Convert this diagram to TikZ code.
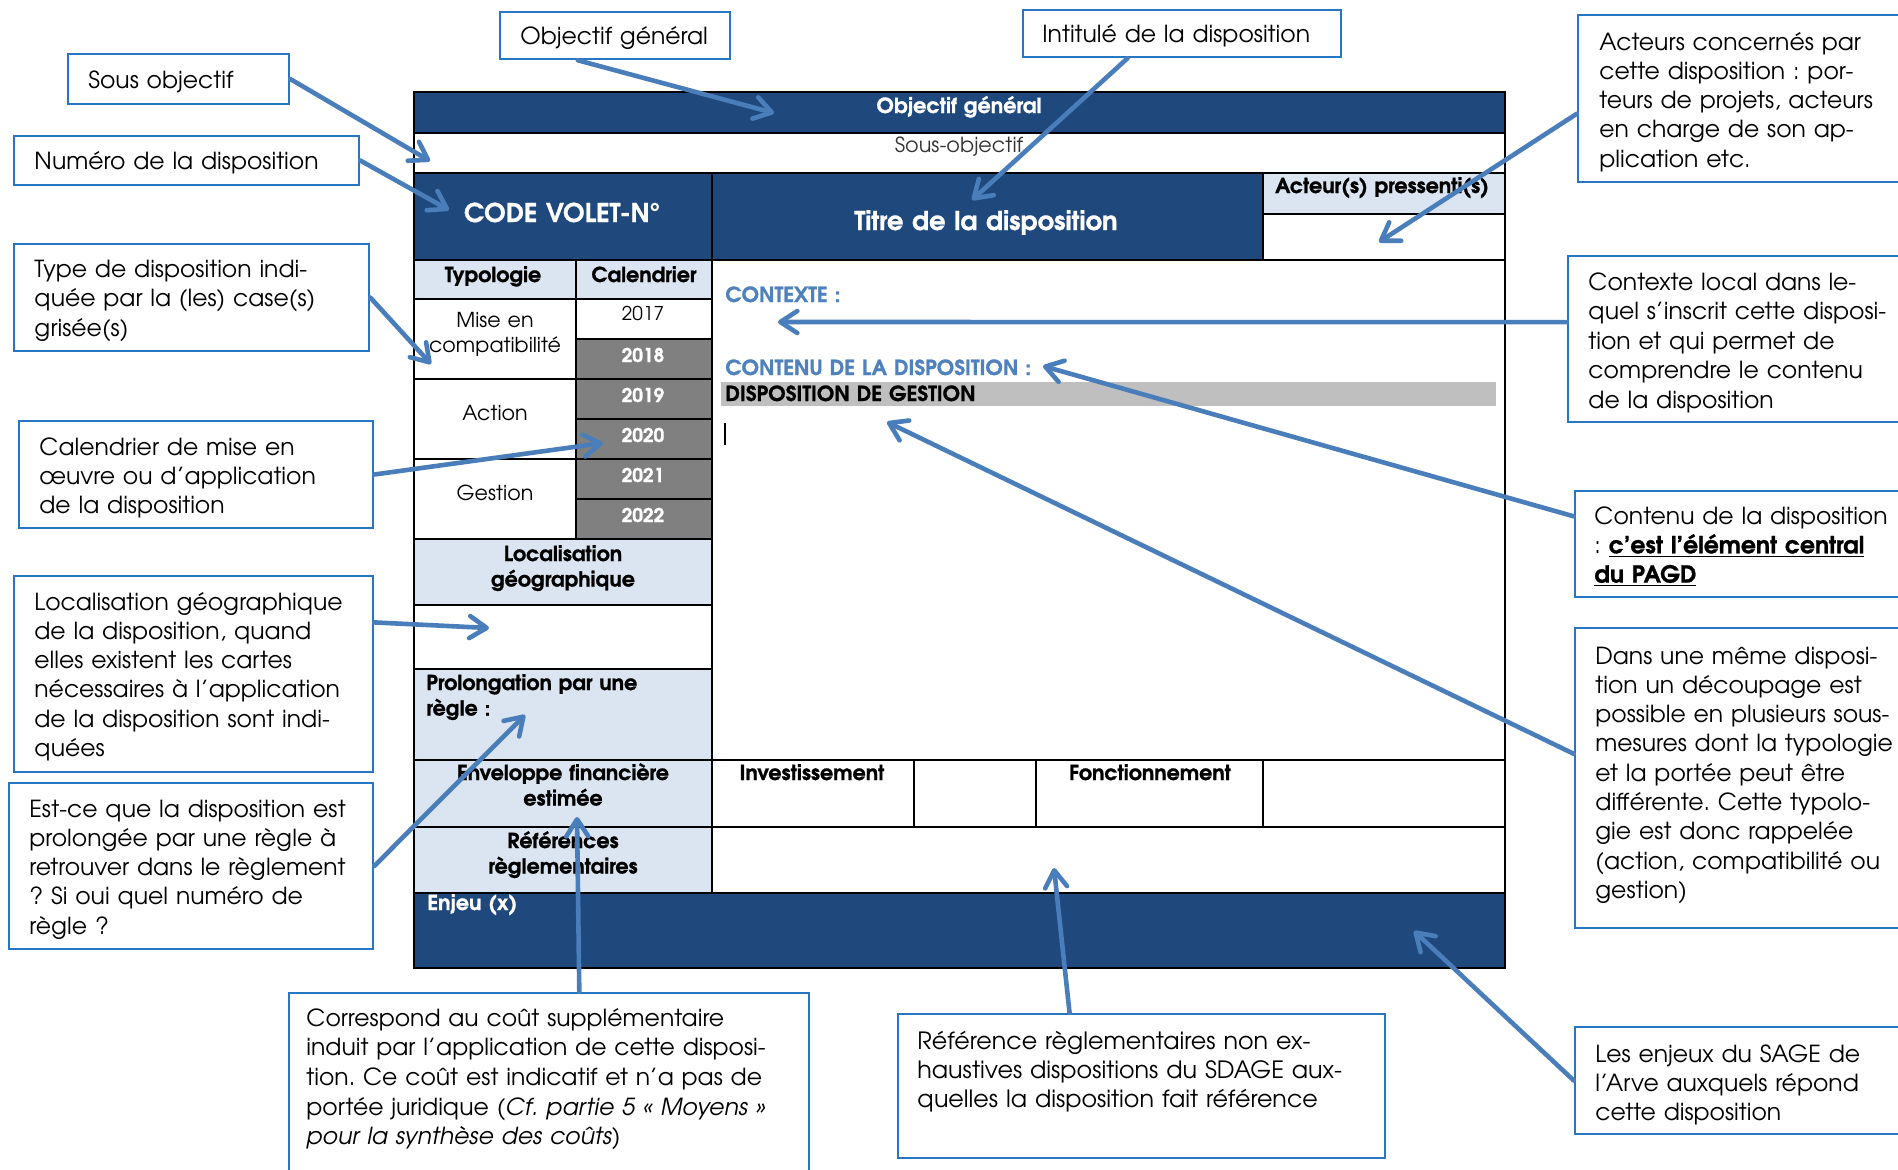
\documentclass[tikz,border=0pt]{standalone}
\usepackage{fontspec}
\IfFontExistsTF{TeX Gyre Adventor}{\setmainfont{TeX Gyre Adventor}[BoldFeatures={FakeBold=1}]}{\setmainfont{Poppins}}
\usetikzlibrary{arrows.meta,fit,calc}
\definecolor{dkblue}{RGB}{31,72,124}
\definecolor{ltblue}{RGB}{219,229,241}
\definecolor{yrgray}{RGB}{128,128,128}
\definecolor{barg}{RGB}{191,191,191}
\definecolor{arrblue}{RGB}{74,126,187}
\definecolor{boxblue}{RGB}{38,118,196}
\definecolor{ctxblue}{RGB}{79,129,189}
\frenchspacing
\newcommand\cfont{\fontsize{11.75}{14.65}\selectfont}
\newcommand\tfont{\fontsize{10.3}{12.75}\selectfont}
\tikzset{
  cell/.style={draw=black, line width=0.9pt, inner sep=0pt},
  dk/.style={cell, fill=dkblue},
  lt/.style={cell, fill=ltblue},
  wh/.style={cell, fill=white},
  gy/.style={cell, fill=yrgray},
  callbox/.style={draw=boxblue, line width=1.25pt, fill=white, inner sep=0pt},
  ctext/.style={anchor=base west, inner sep=0pt, text width=330pt, align=left, font=\cfont},
  tb/.style={anchor=base, inner sep=0pt, text width=150pt, align=center, font=\tfont\bfseries},
  tr/.style={anchor=base, inner sep=0pt, text width=150pt, align=center, font=\tfont},
  yr/.style={tb, font=\fontsize{9.5}{11}\selectfont\bfseries},
  arr/.style={draw=arrblue, line width=2.3pt, line cap=round, line join=round,
    -{Straight Barb[length=8.5pt,width=11pt,round]}},
}
\begin{document}
\begin{tikzpicture}[x=0.5pt,y=-0.5pt]
\fill[white] (0,0) rectangle (1898,1169);
\useasboundingbox (0,0) rectangle (1898,1169);

% ---------------- table cells
\node[dk, fit={(414,92) (1505,133)}] (objbar) {};
\node[wh, fit={(414,133) (1505,173)}] (sousobj) {};
\node[dk, fit={(414,173) (712,260)}] (code) {};
\node[dk, fit={(712,173) (1263,260)}] (titre) {};
\node[lt, fit={(1263,173) (1505,214)}] (acthead) {};
\node[wh, fit={(1263,214) (1505,260)}] (actbody) {};
\node[lt, fit={(414,260) (576,299)}] (typohead) {};
\node[lt, fit={(576,260) (712,299)}] (calhead) {};
\node[wh, fit={(414,299) (576,379)}] (mise) {};
\node[wh, fit={(414,379) (576,459)}] (action) {};
\node[wh, fit={(414,459) (576,539)}] (gestion) {};
\node[wh, fit={(576,299) (712,339)}] (y2017) {};
\node[gy, fit={(576,339) (712,379)}] (y2018) {};
\node[gy, fit={(576,379) (712,419)}] (y2019) {};
\node[gy, fit={(576,419) (712,459)}] (y2020) {};
\node[gy, fit={(576,459) (712,499)}] (y2021) {};
\node[gy, fit={(576,499) (712,539)}] (y2022) {};
\node[lt, fit={(414,539) (712,605)}] (lochead) {};
\node[wh, fit={(414,605) (712,669)}] (locbody) {};
\node[lt, fit={(414,669) (712,760)}] (prolong) {};
\node[wh, fit={(712,260) (1505,760)}] (content) {};
\node[lt, fit={(414,760) (712,827)}] (envhead) {};
\node[wh, fit={(712,760) (914,827)}] (inv) {};
\node[wh, fit={(914,760) (1036,827)}] (invval) {};
\node[wh, fit={(1036,760) (1263,827)}] (fonc) {};
\node[wh, fit={(1263,760) (1505,827)}] (foncval) {};
\node[lt, fit={(414,827) (712,893)}] (refhead) {};
\node[wh, fit={(712,827) (1505,893)}] (refbody) {};
\node[dk, fit={(414,893) (1505,968)}] (enjeu) {};

% ---------------- table texts
\node[tb, text=white, font=\fontsize{10.4}{12}\selectfont\bfseries] (tObj) at (959,113) {Objectif général};
\node[tr, text=black!80, font=\fontsize{10.4}{12}\selectfont] (tSousobj) at (959,152) {Sous-objectif};
\node[tb, text=white, font=\fontsize{12.9}{14}\selectfont\bfseries] (tCode) at (562,222) {CODE VOLET-N°};
\node[tb, text=white, font=\fontsize{12.9}{14}\selectfont\bfseries, text width=260pt] (tTitre) at (986,230) {Titre de la disposition};
\node[tb] (tAct) at (1382,193) {Acteur(s) pressenti(s)};
\node[tb] (tTypo) at (493,282) {Typologie};
\node[tb] (tCal) at (644,282) {Calendrier};
\node[tr] (tMise) at (495,327) {Mise en\\compatibilité};
\node[tr, font=\fontsize{9.5}{11}\selectfont] (t2017) at (643,320) {2017};
\node[yr, text=white] (t2018) at (643,362) {2018};
\node[yr, text=white] (t2019) at (643,402) {2019};
\node[yr, text=white] (t2020) at (643,442) {2020};
\node[yr, text=white] (t2021) at (643,482) {2021};
\node[yr, text=white] (t2022) at (643,522) {2022};
\node[tr] (tAction) at (495,420) {Action};
\node[tr] (tGestion) at (495,500) {Gestion};
\node[tb] (tLoc) at (563,561) {Localisation\\géographique};
\node[tb, anchor=base west, align=left] (tProl) at (426,690) {Prolongation par une\\règle :};
\node[tb] (tEnv) at (563,780) {Enveloppe financière\\estimée};
\node[tb] (tInv) at (812,780) {Investissement};
\node[tb] (tFonc) at (1150,780) {Fonctionnement};
\node[tb] (tRef) at (563,848) {Références\\règlementaires};
\node[tb, text=white, anchor=base west, align=left] (tEnjeu) at (427,910) {Enjeu (x)};

% content area
\fill[barg] (721,382) rectangle (1496,406);
\node[tb, anchor=base west, align=left, text=ctxblue, font=\fontsize{10.4}{12}\selectfont\bfseries] (tCtx) at (725,302) {CONTEXTE :};
\node[tb, anchor=base west, align=left, text=ctxblue, font=\fontsize{10.4}{12}\selectfont\bfseries, text width=300pt] (tContenu) at (725,375) {CONTENU DE LA DISPOSITION :};
\node[tb, anchor=base west, align=left, font=\fontsize{10.4}{12}\selectfont\bfseries, text width=300pt] (tDisp) at (725,401) {DISPOSITION DE GESTION};
\draw[line width=1.1pt] (725,423) -- (725,445);

% ---------------- callout boxes
\node[callbox, fit={(500,12) (730,59)}] (bObj) {};
\node[ctext] (cObj) at (520,44) {Objectif général};
\node[callbox, fit={(1023,10) (1341,57)}] (bInt) {};
\node[ctext] (cInt) at (1042,42) {Intitulé de la disposition};
\node[callbox, fit={(68,54) (289,104)}] (bSous) {};
\node[ctext] (cSous) at (88,88) {Sous objectif};
\node[callbox, fit={(14,136) (359,185)}] (bNum) {};
\node[ctext] (cNum) at (34,169) {Numéro de la disposition};
\node[callbox, fit={(14,244) (369,351)}] (bType) {};
\node[ctext] (cType) at (34,277.5) {Type de disposition indi-\\quée par la (les) case(s)\\grisée(s)};
\node[callbox, fit={(19,421) (373,528)}] (bCal) {};
\node[ctext] (cCal) at (39,455) {Calendrier de mise en\\œuvre ou d’application\\de la disposition};
\node[callbox, fit={(14,576) (373,772)}] (bLoc) {};
\node[ctext] (cLoc) at (34,610) {Localisation géographique\\de la disposition, quand\\elles existent les cartes\\nécessaires à l’application\\de la disposition sont indi-\\quées};
\node[callbox, fit={(9,783) (373,949)}] (bEst) {};
\node[ctext] (cEst) at (29,817) {Est-ce que la disposition est\\prolongée par une règle à\\retrouver dans le règlement\\? Si oui quel numéro de\\règle ?};
\node[callbox, fit={(289,993) (809,1185)}] (bCorr) {};
\node[ctext, font=\fontsize{11.75}{14.85}\selectfont] (cCorr) at (306,1026) {Correspond au coût supplémentaire\\induit par l’application de cette disposi-\\tion. Ce coût est indicatif et n’a pas de\\portée juridique (\textit{Cf. partie 5 « Moyens »}\\\textit{pour la synthèse des coûts})};
\node[callbox, fit={(898,1014) (1385,1158)}] (bRef) {};
\node[ctext, font=\fontsize{11.9}{14.5}\selectfont] (cRef) at (917,1049) {Référence règlementaires non ex-\\haustives dispositions du SDAGE aux-\\quelles la disposition fait référence};
\node[callbox, fit={(1578,15) (1910,182)}] (bAct) {};
\node[ctext] (cAct) at (1599,50) {Acteurs concernés par\\cette disposition : por-\\teurs de projets, acteurs\\en charge de son ap-\\plication etc.};
\node[callbox, fit={(1568,256) (1910,422)}] (bCtx) {};
\node[ctext, font=\fontsize{11.75}{14.8}\selectfont] (cCtx) at (1588,290) {Contexte local dans le-\\quel s’inscrit cette disposi-\\tion et qui permet de\\comprendre le contenu\\de la disposition};
\node[callbox, fit={(1575,491) (1910,597)}] (bCont) {};
\node[ctext] (cCont) at (1594,524) {Contenu de la disposition\\: \textbf{\underline{c’est l’élément central}}\\\textbf{\underline{du PAGD}}};
\node[callbox, fit={(1575,628) (1910,928)}] (bDans) {};
\node[ctext] (cDans) at (1595,664) {Dans une même disposi-\\tion un découpage est\\possible en plusieurs sous-\\mesures dont la typologie\\et la portée peut être\\différente. Cette typolo-\\gie est donc rappelée\\(action, compatibilité ou\\gestion)};
\node[callbox, fit={(1575,1027) (1910,1134)}] (bEnj) {};
\node[ctext] (cEnj) at (1595,1062) {Les enjeux du SAGE de\\l’Arve auxquels répond\\cette disposition};

% ---------------- arrow tips
\coordinate (pA) at (774,113);
\coordinate (pB) at (430,161);
\coordinate (pC) at (449,210);
\coordinate (pD) at (972,200);
\coordinate (pE) at (1379,242);
\coordinate (pF) at (431,364);
\coordinate (pG) at (778,322);
\coordinate (pH) at (1043,366);
\coordinate (pI) at (603,443);
\coordinate (pJ) at (887,422);
\coordinate (pK) at (489,628);
\coordinate (pL) at (525,715);
\coordinate (pM) at (577,817);
\coordinate (pN) at (1054,868);
\coordinate (pO) at (1414,931);

% ---------------- arrows
\draw[arr] ($(bObj.south west)!0.34!(bObj.south east)$) -- (pA);
\draw[arr] (bSous.east) -- (pB);
\draw[arr] (bNum.east) -- (pC);
\draw[arr] ($(bInt.south west)!0.33!(bInt.south east)$) -- (pD);
\draw[arr] ($(bAct.north west)!0.59!(bAct.south west)$) -- (pE);
\draw[arr] (bType.east) -- (pF);
\draw[arr] ($(bCtx.north west)!0.4!(bCtx.south west)$) -- (pG);
\draw[arr] ($(bCont.north west)!0.245!(bCont.south west)$) -- (pH);
\draw[arr] (bCal.east) -- (pI);
\draw[arr] ($(bDans.north west)!0.42!(bDans.south west)$) -- (pJ);
\draw[arr] ($(bLoc.north east)!0.24!(bLoc.south east)$) -- (pK);
\draw[arr] (bEst.east) -- (pL);
\draw[arr] ($(bCorr.north west)!0.558!(bCorr.north east)$) -- (pM);
\draw[arr] ($(bRef.north west)!0.353!(bRef.north east)$) -- (pN);
\draw[arr] (bEnj.west) -- (pO);
\end{tikzpicture}
\end{document}
